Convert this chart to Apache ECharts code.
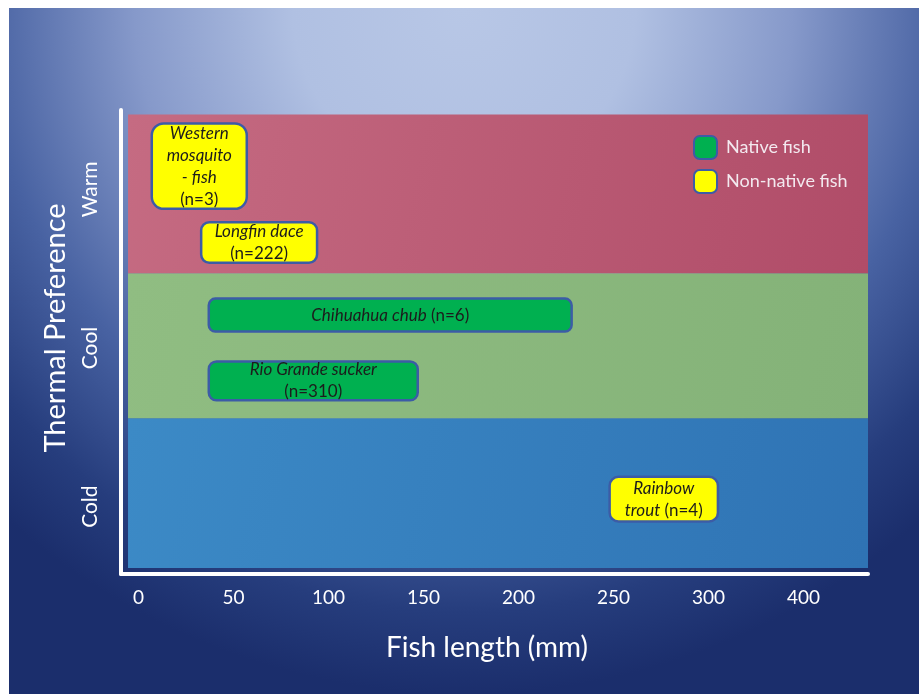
<!DOCTYPE html>
<html>
<head>
<meta charset="utf-8">
<title>Fish length and thermal preference</title>
<script src="https://cdn.jsdelivr.net/npm/echarts@6/dist/echarts.min.js"></script>
<style>
  html, body { margin: 0; padding: 0; background: #ffffff; }
  #chart { position: absolute; left: 9px; top: 8px; width: 910px; height: 686px; }
</style>
</head>
<body>
<div id="chart"></div>
<script>
// ---- data ----
// thermal preference classes, coldest first (y = class index)
const thermalClasses = ['Cold', 'Cool', 'Warm'];

// fish length axis ticks (mm) and the labels printed under them
const xTickValues = [0, 50, 100, 150, 200, 250, 300, 350];
const xTickLabels = ['0', '50', '100', '150', '200', '250', '300', '400'];

// species and their observed length ranges (mm)
const fishNameLines = [['Western', 'mosquito', '- fish'], ['Longfin dace'], ['Chihuahua chub'], ['Rio Grande sucker'], ['Rainbow', 'trout']];
const fishN = [3, 222, 6, 310, 4];
const fishThermal = ['Warm', 'Warm', 'Cool', 'Cool', 'Cold'];
const fishNative = [false, false, true, true, false];
const lengthMin = [7, 33, 37, 37, 248];
const lengthMax = [57, 94, 228, 147, 305];

// ---- layout ----
const xMin = -9.2, xMax = 384, bandStartX = -5.5;
const yMin = -0.55, yMax = 2.55;
// band edges in y units (Cold | Cool | Warm)
const bandEdges = [-0.51, 0.49, 1.46, 2.52];
// y label placement per class
const yLabelPos = [-0.1, 0.96, 2.02];
// box extent within its class row: [top, bottom] offsets from class index
const boxSpan = [[0.46, -0.11], [-0.2, -0.47], [0.29, 0.07], [-0.13, -0.39], [0.1, -0.2]];
// n label on the same line as the last name line?
const nInline = [false, false, true, false, true];

const FONT = 'Lato, "Open Sans", "DejaVu Sans", sans-serif';
const NATIVE_FILL = '#00b050';
const NONNATIVE_FILL = '#ffff00';
const BOX_EDGE = '#3c5ca6';

const bandFills = [
  new echarts.graphic.LinearGradient(0, 0, 1, 1, [{ offset: 0, color: '#3c8ac6' }, { offset: 1, color: '#2f73b4' }]),
  new echarts.graphic.LinearGradient(0, 0, 1, 1, [{ offset: 0, color: '#90bd82' }, { offset: 1, color: '#84b278' }]),
  new echarts.graphic.LinearGradient(0, 0, 1, 1, [{ offset: 0, color: '#c56b82' }, { offset: 1, color: '#b04c68' }])
];

function fishLabel(i) {
  const lines = fishNameLines[i].map(s => '{i|' + s + '}');
  const nText = '(n=' + fishN[i] + ')';
  if (nInline[i]) lines[lines.length - 1] += '{n| ' + nText + '}';
  else lines.push('{n|' + nText + '}');
  return lines.join('\n');
}

function fishData(native) {
  const out = [];
  for (let i = 0; i < fishN.length; i++) {
    if (fishNative[i] !== native) continue;
    const c = thermalClasses.indexOf(fishThermal[i]);
    out.push([lengthMin[i], lengthMax[i], c + boxSpan[i][0], c + boxSpan[i][1], i]);
  }
  return out;
}

const textRich = {
  i: { fontStyle: 'italic', fontFamily: FONT, fontSize: 17, lineHeight: 22, fill: '#1c1c1c' },
  n: { fontFamily: FONT, fontSize: 17, lineHeight: 22, fill: '#1c1c1c' }
};

function renderFish(fill) {
  return function (params, api) {
    const p1 = api.coord([api.value(0), api.value(2)]);
    const p2 = api.coord([api.value(1), api.value(3)]);
    const w = p2[0] - p1[0], h = p2[1] - p1[1];
    const idx = api.value(4);
    return {
      type: 'group',
      children: [
        {
          type: 'rect',
          shape: { x: p1[0], y: p1[1], width: w, height: h, r: Math.min(12, h * 0.2) },
          style: { fill: fill, stroke: BOX_EDGE, lineWidth: 2.5 }
        },
        {
          type: 'text',
          x: p1[0] + w / 2,
          y: p1[1] + h / 2,
          style: {
            text: fishLabel(idx),
            rich: textRich,
            align: 'center',
            verticalAlign: 'middle',
            fontFamily: FONT,
            fontSize: 17,
            lineHeight: 22,
            fill: '#1c1c1c'
          }
        }
      ]
    };
  };
}

function renderBand(params, api) {
  const p1 = api.coord([bandStartX, api.value(1)]);
  const p2 = api.coord([xMax, api.value(0)]);
  return {
    type: 'rect',
    shape: { x: p1[0], y: p1[1], width: p2[0] - p1[0], height: p2[1] - p1[1] },
    style: { fill: bandFills[api.value(2)] }
  };
}

const bandData = thermalClasses.map((c, k) => [bandEdges[k], bandEdges[k + 1], k]);

const chart = echarts.init(document.getElementById('chart'), null, { renderer: 'canvas' });

chart.setOption({
  animation: false,
  backgroundColor: 'transparent',
  graphic: [{
    type: 'rect',
    z: -10,
    silent: true,
    shape: { x: 0, y: 0, width: 910, height: 686 },
    style: {
      fill: new echarts.graphic.RadialGradient(0.5, 0, 1.0, [
        { offset: 0, color: '#b8c7e6' },
        { offset: 0.25, color: '#b0c0e2' },
        { offset: 0.48, color: '#8699ca' },
        { offset: 0.7, color: '#4862a2' },
        { offset: 0.88, color: '#263d7d' },
        { offset: 1, color: '#1b2e6c' }
      ])
    }
  }],
  grid: { left: 112, right: 51, top: 102, bottom: 120, containLabel: false },
  legend: {
    orient: 'vertical',
    left: 684,
    top: 127,
    padding: 0,
    itemWidth: 23,
    itemHeight: 23,
    itemGap: 9,
    icon: 'roundRect',
    textStyle: { color: '#f3e9ef', fontSize: 18, fontFamily: FONT, padding: [0, 0, 0, 4] },
    data: [
      { name: 'Native fish', itemStyle: { color: NATIVE_FILL, borderColor: BOX_EDGE, borderWidth: 2 } },
      { name: 'Non-native fish', itemStyle: { color: NONNATIVE_FILL, borderColor: BOX_EDGE, borderWidth: 2 } }
    ]
  },
  xAxis: {
    type: 'value',
    min: xMin,
    max: xMax,
    name: 'Fish length (mm)',
    nameLocation: 'middle',
    nameGap: 60,
    nameTextStyle: { color: '#ffffff', fontSize: 28, fontFamily: FONT, padding: [0, 15, 0, 0] },
    axisLine: { show: true, onZero: false, lineStyle: { color: '#ffffff', width: 4 } },
    axisTick: { show: false },
    splitLine: { show: false },
    axisLabel: {
      customValues: xTickValues,
      formatter: v => xTickLabels[xTickValues.indexOf(v)],
      color: '#ffffff',
      fontSize: 19,
      fontFamily: FONT,
      margin: 14
    }
  },
  yAxis: {
    type: 'value',
    min: yMin,
    max: yMax,
    name: 'Thermal Preference',
    nameLocation: 'middle',
    nameGap: 51,
    nameTextStyle: { color: '#ffffff', fontSize: 29, fontFamily: FONT, padding: [0, 0, 0, 28] },
    axisLine: { show: true, onZero: false, lineStyle: { color: '#ffffff', width: 4 } },
    axisTick: { show: false },
    splitLine: { show: false },
    axisLabel: {
      customValues: yLabelPos,
      formatter: v => thermalClasses[yLabelPos.indexOf(v)],
      rotate: 90,
      color: '#ffffff',
      fontSize: 21,
      fontFamily: FONT,
      margin: 20
    }
  },
  series: [
    {
      type: 'custom',
      name: 'bands',
      silent: true,
      z: 1,
      renderItem: renderBand,
      data: bandData,
      encode: { x: -1, y: [0, 1] }
    },
    {
      type: 'custom',
      name: 'Native fish',
      z: 3,
      itemStyle: { color: NATIVE_FILL, borderColor: BOX_EDGE, borderWidth: 2 },
      renderItem: renderFish(NATIVE_FILL),
      data: fishData(true),
      encode: { x: [0, 1], y: [2, 3] }
    },
    {
      type: 'custom',
      name: 'Non-native fish',
      z: 3,
      itemStyle: { color: NONNATIVE_FILL, borderColor: BOX_EDGE, borderWidth: 2 },
      renderItem: renderFish(NONNATIVE_FILL),
      data: fishData(false),
      encode: { x: [0, 1], y: [2, 3] }
    }
  ]
});
</script>
</body>
</html>
